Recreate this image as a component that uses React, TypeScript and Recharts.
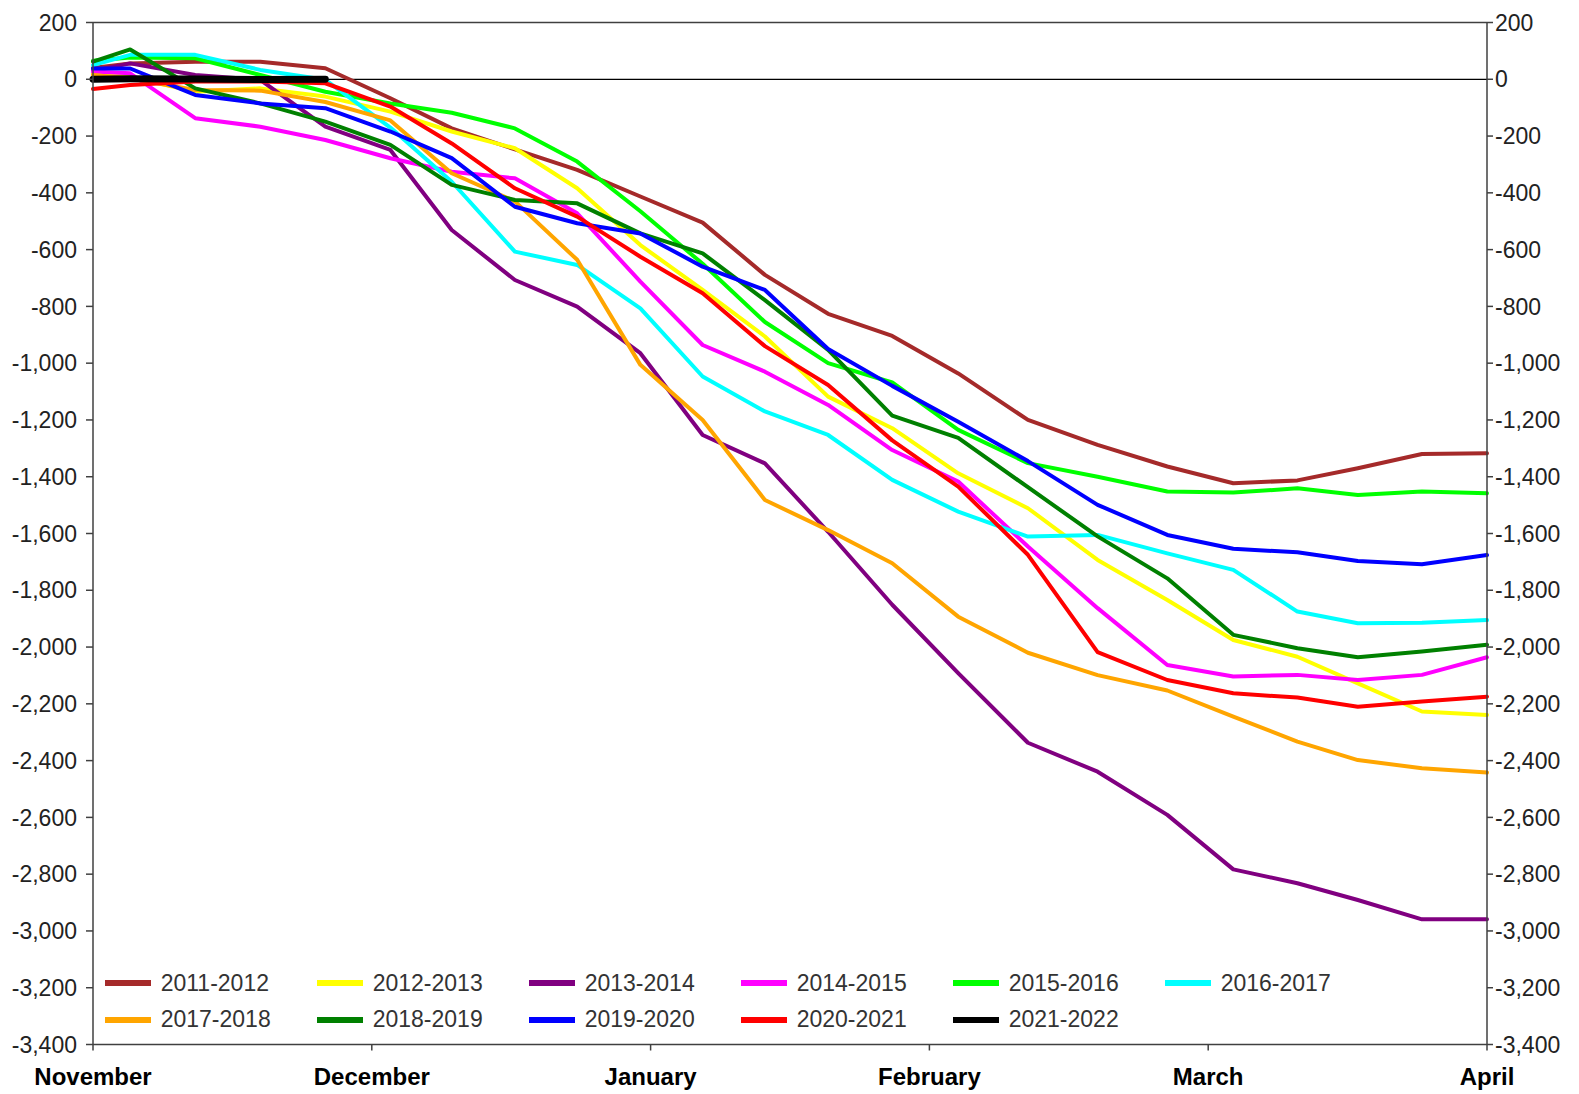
import React from "react";
import { LineChart, Line, XAxis, YAxis, ReferenceLine, Legend } from "recharts";

// day offsets from Nov 1 (months drawn as equal 30-day spans)
const days = [0, 4, 11, 18, 25, 32, 38.6, 45.4, 52.1, 58.9, 65.6, 72.3, 79.1, 86, 93.1, 100.6, 108.1, 115.6, 122.7, 129.6, 136.1, 143, 150];
const monthTicks = [0, 30, 60, 90, 120, 150];
const monthNames = ["November", "December", "January", "February", "March", "April"];
const yTicks = [200, 0, -200, -400, -600, -800, -1000, -1200, -1400, -1600, -1800, -2000, -2200, -2400, -2600, -2800, -3000, -3200, -3400];

const s1112 = [40, 56, 62, 62, 39, -67, -173, -247, -319, -413, -505, -689, -826, -904, -1036, -1200, -1288, -1364, -1423, -1413, -1370, -1320, -1317];
const s1213 = [21, 9, -44, -32, -61, -114, -184, -243, -384, -584, -742, -906, -1118, -1229, -1388, -1511, -1693, -1834, -1975, -2034, -2128, -2227, -2239];
const s1314 = [30, 56, 15, -2, -167, -249, -531, -707, -801, -965, -1253, -1353, -1594, -1851, -2092, -2337, -2439, -2591, -2783, -2832, -2891, -2959, -2959];
const s1415 = [27, 21, -137, -167, -214, -278, -326, -349, -472, -713, -936, -1030, -1147, -1306, -1417, -1646, -1863, -2063, -2104, -2098, -2116, -2098, -2036];
const s1516 = [65, 77, 74, 15, -44, -85, -118, -173, -290, -465, -650, -855, -1000, -1068, -1235, -1352, -1400, -1452, -1456, -1441, -1464, -1452, -1458];
const s1617 = [50, 86, 86, 33, -2, -170, -361, -607, -654, -807, -1047, -1170, -1253, -1411, -1523, -1611, -1605, -1670, -1728, -1875, -1916, -1914, -1905];
const s1718 = [15, 3, -38, -40, -80, -145, -331, -430, -636, -1006, -1200, -1482, -1588, -1705, -1893, -2020, -2099, -2153, -2245, -2333, -2398, -2427, -2442];
const s1819 = [62, 105, -32, -85, -149, -231, -372, -425, -437, -543, -613, -778, -953, -1185, -1263, -1437, -1610, -1758, -1957, -2004, -2036, -2016, -1992];
const s1920 = [38, 38, -55, -85, -102, -184, -278, -449, -507, -543, -660, -742, -950, -1080, -1206, -1345, -1499, -1605, -1654, -1666, -1697, -1708, -1676];
const s2021 = [-34, -20, -8, -8, -14, -96, -226, -384, -484, -625, -754, -940, -1077, -1272, -1435, -1675, -2018, -2116, -2163, -2178, -2210, -2192, -2175];
const s2122 = [0, 2, 1, -1, 0];

const SERIES = [
    { key: "y1112", name: "2011-2012", color: "#a52a2a", values: s1112 },
    { key: "y1213", name: "2012-2013", color: "#ffff00", values: s1213 },
    { key: "y1314", name: "2013-2014", color: "#800080", values: s1314 },
    { key: "y1415", name: "2014-2015", color: "#ff00ff", values: s1415 },
    { key: "y1516", name: "2015-2016", color: "#00ff00", values: s1516 },
    { key: "y1617", name: "2016-2017", color: "#00ffff", values: s1617 },
    { key: "y1718", name: "2017-2018", color: "#ffa500", values: s1718 },
    { key: "y1819", name: "2018-2019", color: "#008000", values: s1819 },
    { key: "y1920", name: "2019-2020", color: "#0000ff", values: s1920 },
    { key: "y2021", name: "2020-2021", color: "#ff0000", values: s2021 },
    { key: "y2122", name: "2021-2022", color: "#000000", values: s2122 },
];

const data = days.map((day, i) => {
    const row: any = { day };
    SERIES.forEach((s) => {
        if (i < s.values.length) row[s.key] = s.values[i];
    });
    return row;
});

const AXIS = "#404040";
const FONT = "Arial, 'Liberation Sans', sans-serif";
const Y_TICK = { fill: "#222", fontSize: 23, fontFamily: FONT };

function LegendBox() {
    return (
        <div style={{ display: "grid", gridTemplateColumns: "repeat(6, 212px)", fontFamily: FONT }}>
            {SERIES.map((s) => (
                <div key={s.key} style={{ display: "flex", alignItems: "center", height: 36.5 }}>
                    <span style={{ display: "inline-block", width: 46, height: 6, background: s.color, marginRight: 10 }} />
                    <span style={{ fontSize: 23, color: "#333" }}>{s.name}</span>
                </div>
            ))}
        </div>
    );
}

export default function App() {
    return (
        <div style={{ width: 1563, height: 1086, background: "#fff", fontFamily: FONT }}>
            <style>{"html, body { overflow: hidden; }"}</style>
            <LineChart width={1563} height={1086} data={data} margin={{ top: 14.5, right: 0, bottom: 0, left: 0 }}>
                <XAxis
                    dataKey="day"
                    type="number"
                    domain={[0, 150]}
                    ticks={monthTicks}
                    tickFormatter={(v: number) => monthNames[monthTicks.indexOf(v)]}
                    height={49.5}
                    tickSize={6}
                    tickMargin={17}
                    stroke={AXIS}
                    strokeWidth={1.5}
                    tick={{ fill: "#000", fontSize: 24, fontWeight: "bold", fontFamily: FONT }}
                    interval={0}
                />
                <YAxis
                    yAxisId="left"
                    domain={[-3400, 200]}
                    ticks={yTicks}
                    interval={0}
                    width={85}
                    tickSize={7}
                    tickMargin={9}
                    stroke={AXIS}
                    strokeWidth={1.5}
                    tick={Y_TICK}
                    tickFormatter={(v: number) => v.toLocaleString("en-US")}
                    allowDataOverflow
                />
                <YAxis
                    yAxisId="right"
                    orientation="right"
                    domain={[-3400, 200]}
                    ticks={yTicks}
                    interval={0}
                    width={84}
                    tickSize={6}
                    tickMargin={2}
                    stroke={AXIS}
                    strokeWidth={1.5}
                    tick={Y_TICK}
                    tickFormatter={(v: number) => v.toLocaleString("en-US")}
                    allowDataOverflow
                />
                <ReferenceLine yAxisId="left" y={200} stroke={AXIS} strokeWidth={1.5} />
                <ReferenceLine yAxisId="left" y={0} stroke="#000" strokeWidth={1.2} />
                {SERIES.map((s) => (
                    <Line
                        key={s.key}
                        yAxisId="left"
                        type="linear"
                        dataKey={s.key}
                        name={s.name}
                        stroke={s.color}
                        strokeWidth={s.key === "y2122" ? 7 : 4}
                        strokeLinecap="round"
                        strokeLinejoin="round"
                        dot={false}
                        activeDot={false}
                        isAnimationActive={false}
                    />
                ))}
                <Legend
                    layout="horizontal"
                    verticalAlign="middle"
                    align="center"
                    wrapperStyle={{ left: 96.7, top: 957, width: 1300 }}
                    content={() => <LegendBox />}
                />
            </LineChart>
        </div>
    );
}
